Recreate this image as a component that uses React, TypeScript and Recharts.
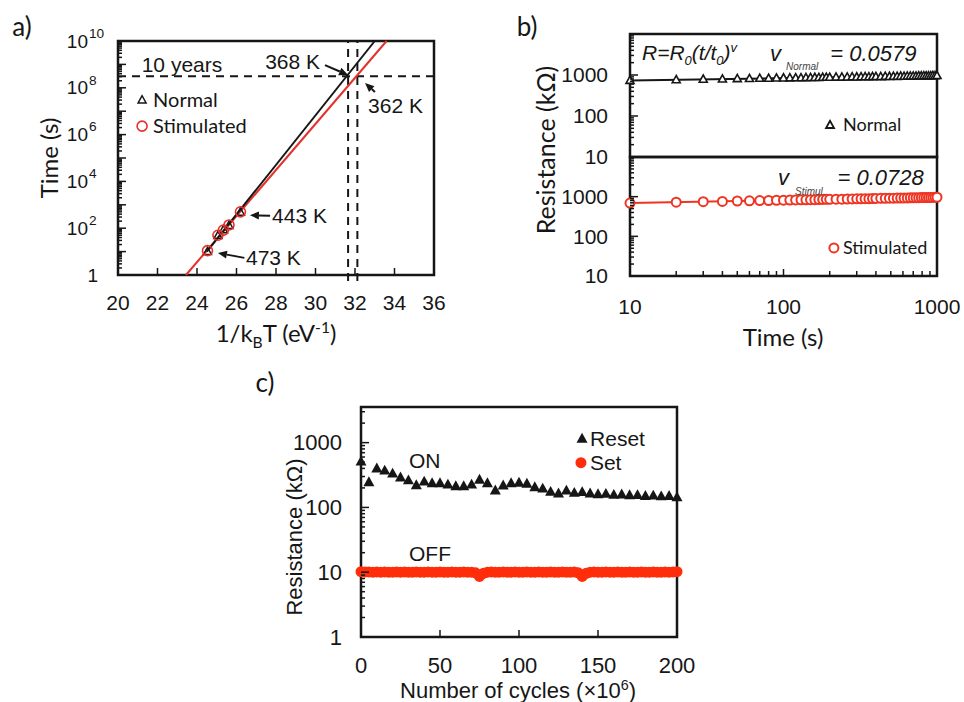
import React from "react";
import {
  ComposedChart,
  Line,
  Scatter,
  XAxis,
  YAxis,
  ReferenceLine,
  ReferenceDot,
  ReferenceArea,
} from "recharts";

// ---------- panel a: retention time vs 1/kBT ----------
const arrheniusX = [24.53, 25.06, 25.34, 25.62, 26.2]; // 473, 463, 458, 453, 443 K
const retentionNormal = [10, 48, 85, 130, 480];
const retentionStimulated = [11, 50, 83, 138, 500];
const fitNormalX = [24.5, 33.0];
const fitNormalY = [10, 1e10];
const fitStimX = [23.44, 33.6];
const fitStimY = [1, 1e10];
const tenYears = 3.15e8;
const crossX = [31.65, 32.12];
const arrXTicks = [20, 22, 24, 26, 28, 30, 32, 34, 36];
const arrYLabels = [1, 1e2, 1e4, 1e6, 1e8, 1e10];

// ---------- panel b: resistance drift ----------
const driftTime = [
  10, 20, 30, 40, 50, 60, 70, 80, 90, 100, 110, 120, 130, 140, 150, 160, 170, 180, 190, 200,
  220, 240, 260, 280, 300, 320, 340, 360, 380, 400, 430, 460, 490, 520, 550, 580, 610, 640,
  670, 700, 730, 760, 790, 820, 850, 880, 910, 940, 970, 1000,
];
const driftNormal = [
  735, 762, 785, 794, 809, 813, 826, 828, 838, 842, 845, 851, 850, 858, 861, 866, 864, 872, 875, 873,
  882, 880, 889, 893, 890, 899, 902, 898, 907, 911, 909, 917, 915, 924, 921, 929, 926, 934,
  931, 940, 938, 944, 941, 949, 946, 953, 950, 957, 954, 962,
];
const driftStimulated = [
  690, 724, 749, 760, 778, 784, 797, 801, 812, 814, 822, 825, 833, 834, 841, 842, 849, 850, 856, 855,
  864, 866, 874, 876, 885, 883, 892, 891, 899, 900, 908, 907, 916, 915, 923, 921, 930, 928,
  936, 938, 943, 941, 948, 947, 953, 951, 958, 956, 962, 966,
];
const driftFitX = [10, 1000];
const driftFitNormal = [735, 960];
const driftFitStim = [690, 965];
const driftXLabels = [10, 100, 1000];
const driftYLabels = [10, 100, 1000];

// ---------- panel c: endurance ----------
const resetCycles = [
  0, 5, 10, 15, 20, 25, 30, 35, 40, 45, 50, 55, 60, 65, 70, 75, 80, 85, 90, 95, 100,
  105, 110, 115, 120, 125, 130, 135, 140, 145, 150, 155, 160, 165, 170, 175, 180, 185, 190, 195, 200,
];
const resetValues = [
  510, 245, 400, 370, 332, 290, 262, 220, 250, 236, 236, 225, 212, 212, 225, 268, 236, 183, 218, 236, 240,
  232, 205, 195, 174, 164, 182, 168, 172, 164, 160, 162, 156, 158, 154, 155, 150, 152, 148, 150, 143,
];
const setCycles = [
  0, 2.5, 5, 7.5, 10, 12.5, 15, 17.5, 20, 22.5, 25, 27.5, 30, 32.5, 35, 37.5, 40, 42.5, 45, 47.5,
  50, 52.5, 55, 57.5, 60, 62.5, 65, 67.5, 70, 72.5, 75, 77.5, 80, 82.5, 85, 87.5, 90, 92.5, 95, 97.5,
  100, 102.5, 105, 107.5, 110, 112.5, 115, 117.5, 120, 122.5, 125, 127.5, 130, 132.5, 135, 137.5, 140,
  142.5, 145, 147.5, 150, 152.5, 155, 157.5, 160, 162.5, 165, 167.5, 170, 172.5, 175, 177.5, 180,
  182.5, 185, 187.5, 190, 192.5, 195, 197.5, 200,
];
const setValues = [
  10.2, 10.1, 10.1, 10.0, 10.1, 10.0, 10.1, 10.0, 10.0, 10.1,
  10.0, 10.1, 10.0, 10.0, 10.1, 10.0, 10.0, 10.1, 10.0, 10.0,
  10.1, 10.0, 10.0, 10.1, 10.0, 10.0, 10.1, 10.0, 10.0, 9.8,
  8.6, 9.6, 10.0, 10.1, 10.0, 10.0, 10.1, 10.0, 10.0, 10.1,
  10.0, 10.0, 10.1, 10.0, 10.0, 10.1, 10.0, 10.0, 10.1, 10.0,
  10.0, 10.1, 10.0, 10.0, 10.1, 9.8, 8.6, 9.6, 10.0, 10.1,
  10.0, 10.0, 10.1, 10.0, 10.0, 10.1, 10.0, 10.0, 10.1, 10.0,
  10.0, 10.1, 10.0, 10.0, 10.1, 10.0, 10.0, 10.1, 10.0, 10.1,
  10.2,
];
const cycleTicks = [0, 50, 100, 150, 200];
const enduranceYLabels = [1, 10, 100, 1000];

const INK = "#161616";
const RED_A = "#e5312a";
const RED_B = "#ee3524";
const RED_C = "#ff2d0a";
const HELV = "'Liberation Sans', Arial, sans-serif";
const CAL = "Lato, 'Open Sans', sans-serif";

const zip = (xs: number[], ys: number[]) => xs.map((x, i) => ({ x, y: ys[i] }));

function logTicks(lo: number, hi: number) {
  const out: number[] = [];
  for (let d = lo; d <= hi; d *= 10) {
    for (let m = 1; m < 10; m++) if (m * d <= hi) out.push(m * d);
  }
  return out;
}

const isDecade = (v: number) => Math.abs(Math.log10(v) - Math.round(Math.log10(v))) < 1e-9;

function leftTick(labels: number[], gap: number, size: number, power = false) {
  return (p: any) => {
    const v = p.payload.value;
    const major = isDecade(v);
    const showLabel = labels.includes(v);
    let label = null;
    if (showLabel && power && v !== 1) {
      const e = Math.round(Math.log10(v));
      label = (
        <g fontFamily={HELV} fill={INK}>
          <text x={p.x - gap} y={p.y} dy="0.35em" textAnchor="end" fontSize={size}>10</text>
          <text x={p.x - gap + 1} y={p.y - 8} dy="0.35em" textAnchor="start" fontSize={size * 0.72}>{e}</text>
        </g>
      );
    } else if (showLabel) {
      label = (
        <text x={p.x - (power ? gap - 10 : gap)} y={p.y} dy="0.35em" textAnchor="end" fontSize={size} fontFamily={HELV} fill={INK}>
          {v}
        </text>
      );
    }
    return (
      <g>
        <line x1={p.x} x2={p.x + (major ? 8 : 4)} y1={p.y} y2={p.y} stroke={INK} strokeWidth={1.5} />
        {label}
      </g>
    );
  };
}

function bottomTick(labels: number[], dist: number, size: number) {
  return (p: any) => {
    const v = p.payload.value;
    const lab = labels.includes(v);
    return (
      <g>
        <line x1={p.x} x2={p.x} y1={p.y} y2={p.y - (lab ? 7 : 5)} stroke={INK} strokeWidth={1.5} />
        {lab && (
          <text x={p.x} y={p.y + dist} dy="0.35em" textAnchor="middle" fontSize={size} fontFamily={HELV} fill={INK}>
            {v}
          </text>
        )}
      </g>
    );
  };
}

const triangle = (w: number, color: string, fill: string, sw: number) => (p: any) => {
  const { cx, cy } = p;
  const h = w * 0.9;
  return (
    <polygon
      points={`${cx},${cy - h * 0.6} ${cx - w / 2},${cy + h * 0.4} ${cx + w / 2},${cy + h * 0.4}`}
      fill={fill}
      stroke={color}
      strokeWidth={sw}
    />
  );
};

const circle = (r: number, color: string, fill: string, sw: number) => (p: any) => (
  <circle cx={p.cx} cy={p.cy} r={r} fill={fill} stroke={color} strokeWidth={sw} />
);

const textShape = (text: React.ReactNode, size: number, anchor = "start", font = HELV) => (p: any) => (
  <text x={p.cx} y={p.cy} dy="0.35em" textAnchor={anchor} fontSize={size} fontFamily={font} fill={INK}>
    {text}
  </text>
);

const legendShape = (marker: (p: any) => React.ReactElement, text: string, size: number, font: string, gap = 11) => (p: any) => (
  <g>
    {marker(p)}
    <text x={p.cx + gap} y={p.cy} dy="0.35em" fontSize={size} fontFamily={font} fill={INK}>
      {text}
    </text>
  </g>
);

const arrowShape = (p: any) => {
  const { x1, y1, x2, y2 } = p;
  const a = Math.atan2(y2 - y1, x2 - x1);
  const L = 9;
  const W = 4;
  const bx = x2 - L * Math.cos(a);
  const by = y2 - L * Math.sin(a);
  const pts = `${x2},${y2} ${bx + W * Math.sin(a)},${by - W * Math.cos(a)} ${bx - W * Math.sin(a)},${by + W * Math.cos(a)}`;
  return (
    <g>
      <line x1={x1} y1={y1} x2={bx} y2={by} stroke={INK} strokeWidth={2} />
      <polygon points={pts} fill={INK} />
    </g>
  );
};

const Caption = ({ x, y, rotate, font, size, children }: any) => (
  <div
    style={{
      position: "absolute",
      left: x,
      top: y,
      transform: `translate(-50%, -50%)${rotate ? " rotate(-90deg)" : ""}`,
      fontFamily: font,
      fontSize: size,
      lineHeight: 1,
      whiteSpace: "nowrap",
      color: INK,
    }}
  >
    {children}
  </div>
);

function PanelA() {
  const normalPts = zip(arrheniusX, retentionNormal);
  const stimPts = zip(arrheniusX, retentionStimulated);
  return (
    <ComposedChart width={470} height={340} margin={{ top: 41, right: 36, bottom: 0, left: 48 }}>
      <XAxis
        type="number"
        dataKey="x"
        domain={[20, 36]}
        ticks={arrXTicks}
        interval={0}
        axisLine={false}
        tickLine={false}
        tickSize={0}
        tickMargin={0}
        height={65}
        tick={bottomTick(arrXTicks, 28, 21)}
      />
      <YAxis
        type="number"
        dataKey="y"
        scale="log"
        domain={[1, 1e10]}
        ticks={logTicks(1, 1e10)}
        interval={0}
        width={70}
        axisLine={false}
        tickLine={false}
        tickSize={0}
        tickMargin={0}
        tick={leftTick(arrYLabels, 30, 19, true)}
      />
      <ReferenceLine y={tenYears} stroke={INK} strokeWidth={2} strokeDasharray="8 6" />
      {crossX.map((x) => (
        <ReferenceLine
          key={x}
          segment={[{ x, y: 0.55 }, { x, y: 1e10 }]}
          stroke={INK}
          strokeWidth={2}
          strokeDasharray="8 6"
          ifOverflow="visible"
        />
      ))}
      <Line data={zip(fitStimX, fitStimY)} dataKey="y" stroke={RED_A} strokeWidth={2} dot={false} isAnimationActive={false} />
      <Line data={zip(fitNormalX, fitNormalY)} dataKey="y" stroke={INK} strokeWidth={2} dot={false} isAnimationActive={false} />
      <Scatter data={normalPts} shape={triangle(8, INK, "none", 1.5)} isAnimationActive={false} />
      <Scatter data={stimPts} shape={circle(5, RED_A, "none", 1.6)} isAnimationActive={false} />

      <ReferenceDot x={21.2} y={9.3e8} ifOverflow="visible" shape={textShape("10 years", 21)} />
      <ReferenceDot x={30.23} y={1.26e9} ifOverflow="visible" shape={textShape("368 K", 21, "end")} />
      <ReferenceLine segment={[{ x: 30.48, y: 9.3e8 }, { x: 31.65, y: 3.5e8 }]} ifOverflow="visible" shape={arrowShape} />
      <ReferenceDot x={32.66} y={1.8e7} ifOverflow="visible" shape={textShape("362 K", 21)} />
      <ReferenceLine segment={[{ x: 33.01, y: 6.6e7 }, { x: 32.51, y: 1.6e8 }]} ifOverflow="visible" shape={arrowShape} />
      <ReferenceDot x={27.8} y={360} ifOverflow="visible" shape={textShape("443 K", 21)} />
      <ReferenceLine segment={[{ x: 27.7, y: 340 }, { x: 26.68, y: 360 }]} ifOverflow="visible" shape={arrowShape} />
      <ReferenceDot x={26.48} y={5.4} ifOverflow="visible" shape={textShape("473 K", 21)} />
      <ReferenceLine segment={[{ x: 26.4, y: 5.4 }, { x: 25.06, y: 8.7 }]} ifOverflow="visible" shape={arrowShape} />
      <ReferenceDot x={21.22} y={3.0e7} ifOverflow="visible" shape={legendShape(triangle(8, INK, "none", 1.5), "Normal", 20, CAL)} />
      <ReferenceDot x={21.22} y={2.3e6} ifOverflow="visible" shape={legendShape(circle(5, RED_A, "none", 1.6), "Stimulated", 20, CAL)} />

      <ReferenceArea x1={20} x2={36} y1={1} y2={1e10} fill="none" stroke={INK} strokeWidth={2.5} ifOverflow="visible" />
    </ComposedChart>
  );
}

function PanelBTop() {
  return (
    <ComposedChart width={484} height={178} margin={{ top: 34, right: 27, bottom: 21, left: 80 }}>
      <XAxis hide type="number" dataKey="x" scale="log" domain={[10, 1000]} />
      <YAxis
        type="number"
        dataKey="y"
        scale="log"
        domain={[10, 10000]}
        ticks={logTicks(10, 10000)}
        interval={0}
        width={70}
        axisLine={false}
        tickLine={false}
        tickSize={0}
        tickMargin={0}
        tick={leftTick(driftYLabels, 22, 21)}
      />
      <Line data={zip(driftFitX, driftFitNormal)} dataKey="y" stroke={INK} strokeWidth={2} dot={false} isAnimationActive={false} />
      <Scatter data={zip(driftTime, driftNormal)} shape={triangle(8, INK, "#fff", 1.6)} isAnimationActive={false} />
      <ReferenceDot
        x={11.97}
        y={3440}
        ifOverflow="visible"
        shape={(p: any) => (
          <text x={p.cx} y={p.cy} dy="0.35em" fontSize={21} fontStyle="italic" fontFamily={HELV} fill={INK}>
            R=R<tspan fontSize={13} dy={5}>0</tspan>
            <tspan dy={-5}>(t/t</tspan>
            <tspan fontSize={13} dy={5}>0</tspan>
            <tspan dy={-5}>)</tspan>
            <tspan fontSize={13} dy={-8}>v</tspan>
          </text>
        )}
      />
      <ReferenceDot
        x={81.7}
        y={3440}
        ifOverflow="visible"
        shape={(p: any) => (
          <text x={p.cx} y={p.cy} dy="0.35em" fontSize={22} fontStyle="italic" fontFamily={HELV} fill={INK}>
            v<tspan fontSize={10} dx={5} dy={9} fill="#444">Normal</tspan>
            <tspan dx={12} dy={-9}>= 0.0579</tspan>
          </text>
        )}
      />
      <ReferenceDot x={201} y={60} ifOverflow="visible" shape={legendShape(triangle(8, INK, "none", 1.8), "Normal", 18, CAL, 13)} />
      <ReferenceArea x1={10} x2={1000} y1={10} y2={10000} fill="none" stroke={INK} strokeWidth={2.5} ifOverflow="visible" />
    </ComposedChart>
  );
}

function PanelBBottom() {
  return (
    <ComposedChart width={484} height={200} margin={{ top: 7, right: 27, bottom: 0, left: 80 }}>
      <XAxis
        type="number"
        dataKey="x"
        scale="log"
        domain={[10, 1000]}
        ticks={logTicks(10, 1000)}
        interval={0}
        axisLine={false}
        tickLine={false}
        tickSize={0}
        tickMargin={0}
        height={74}
        tick={bottomTick(driftXLabels, 31, 21)}
      />
      <YAxis
        type="number"
        dataKey="y"
        scale="log"
        domain={[10, 10000]}
        ticks={logTicks(10, 10000)}
        interval={0}
        width={70}
        axisLine={false}
        tickLine={false}
        tickSize={0}
        tickMargin={0}
        tick={leftTick(driftYLabels, 22, 21)}
      />
      <Line data={zip(driftFitX, driftFitStim)} dataKey="y" stroke={RED_B} strokeWidth={2} dot={false} isAnimationActive={false} />
      <Scatter data={zip(driftTime, driftStimulated)} shape={circle(4.5, RED_B, "#fff", 2)} isAnimationActive={false} />
      <ReferenceDot
        x={92.1}
        y={3130}
        ifOverflow="visible"
        shape={(p: any) => (
          <text x={p.cx} y={p.cy} dy="0.35em" fontSize={22} fontStyle="italic" fontFamily={HELV} fill={INK}>
            v<tspan fontSize={10} dx={6} dy={10} fill="#444">Stimul.</tspan>
            <tspan dx={12} dy={-10}>= 0.0728</tspan>
          </text>
        )}
      />
      <ReferenceDot x={213} y={51} ifOverflow="visible" shape={legendShape(circle(4.5, RED_B, "none", 2), "Stimulated", 18, CAL, 9)} />
      <ReferenceArea x1={10} x2={1000} y1={10} y2={10000} fill="none" stroke={INK} strokeWidth={2.5} ifOverflow="visible" />
    </ComposedChart>
  );
}

function PanelC() {
  return (
    <ComposedChart width={470} height={342} margin={{ top: 47, right: 43, bottom: 0, left: 51 }}>
      <XAxis
        type="number"
        dataKey="x"
        domain={[0, 200]}
        ticks={cycleTicks}
        interval={0}
        axisLine={false}
        tickLine={false}
        tickSize={0}
        tickMargin={0}
        height={65}
        tick={bottomTick(cycleTicks, 28, 22)}
      />
      <YAxis
        type="number"
        dataKey="y"
        scale="log"
        domain={[1, 3548]}
        ticks={logTicks(1, 3548)}
        interval={0}
        width={60}
        axisLine={false}
        tickLine={false}
        tickSize={0}
        tickMargin={0}
        tick={leftTick(enduranceYLabels, 19, 22)}
      />
      <Scatter data={zip(setCycles, setValues)} shape={circle(5.5, RED_C, RED_C, 0)} isAnimationActive={false} />
      <Scatter data={zip(resetCycles, resetValues)} shape={triangle(11, INK, INK, 0)} isAnimationActive={false} />
      <ReferenceDot x={30.4} y={525} ifOverflow="visible" shape={textShape("ON", 21)} />
      <ReferenceDot x={30.4} y={19.6} ifOverflow="visible" shape={textShape("OFF", 21)} />
      <ReferenceDot x={139.9} y={1150} ifOverflow="visible" shape={legendShape(triangle(11, INK, INK, 0), "Reset", 21, HELV, 8)} />
      <ReferenceDot x={139.2} y={490} ifOverflow="visible" shape={legendShape(circle(5.5, RED_C, RED_C, 0), "Set", 21, HELV, 9)} />
      <ReferenceArea x1={0} x2={200} y1={1} y2={3548} fill="none" stroke={INK} strokeWidth={2.5} ifOverflow="visible" />
    </ComposedChart>
  );
}

export default function App() {
  return (
    <div style={{ position: "relative", width: 964, height: 702, background: "#fff", overflow: "hidden" }}>
      <style>{"body{margin:0;}"}</style>
      <div style={{ position: "absolute", left: 0, top: 0 }}>
        <PanelA />
      </div>
      <div style={{ position: "absolute", left: 480, top: 150 }}>
        <PanelBBottom />
      </div>
      <div style={{ position: "absolute", left: 480, top: 0 }}>
        <PanelBTop />
      </div>
      <div style={{ position: "absolute", left: 250, top: 360 }}>
        <PanelC />
      </div>

      <Caption x={22} y={26} font={CAL} size={26}>a)</Caption>
      <Caption x={527} y={26} font={CAL} size={26}>b)</Caption>
      <Caption x={265} y={382} font={CAL} size={26}>c)</Caption>

      <Caption x={49} y={158} rotate font={CAL} size={24}>Time (s)</Caption>
      <Caption x={276} y={335} font={CAL} size={24}>
        1/k<sub style={{ fontSize: "0.65em" }}>B</sub>T (eV<sup style={{ fontSize: "0.65em" }}>-1</sup>)
      </Caption>

      <Caption x={545} y={150} rotate font={CAL} size={25}>Resistance (kΩ)</Caption>
      <Caption x={783} y={337} font={CAL} size={24}>Time (s)</Caption>

      <Caption x={295} y={537} rotate font={HELV} size={22}>Resistance (kΩ)</Caption>
      <Caption x={518} y={690} font={HELV} size={22}>
        Number of cycles (×10<sup style={{ fontSize: "0.65em" }}>6</sup>)
      </Caption>
    </div>
  );
}
